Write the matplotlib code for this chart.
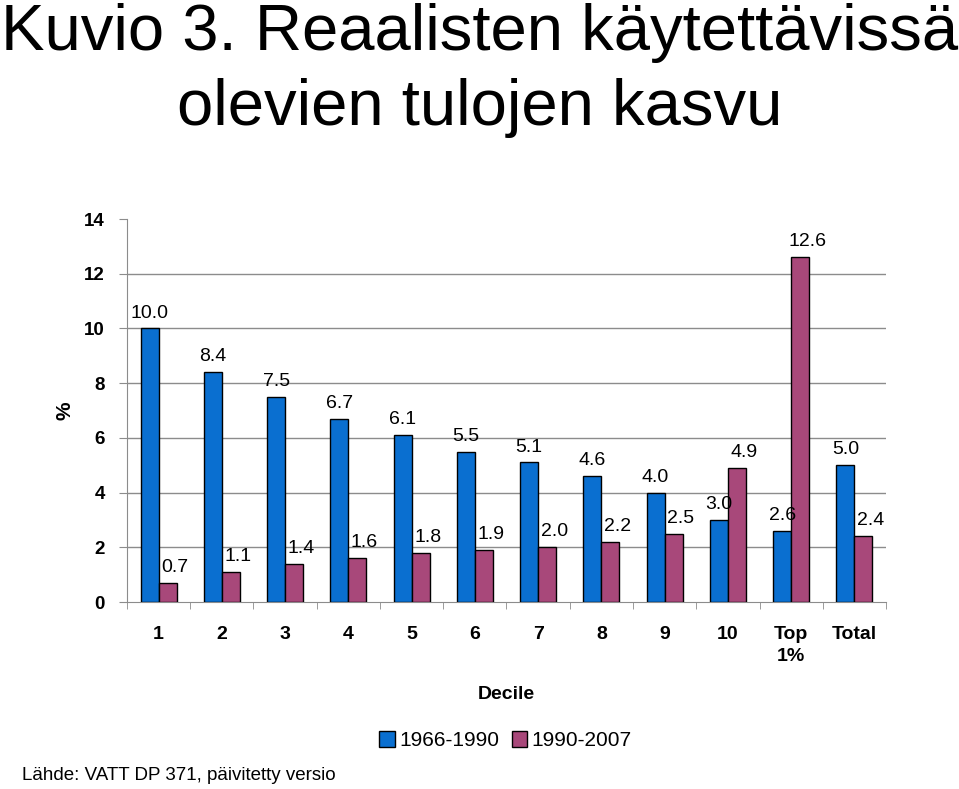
import numpy as np
import matplotlib.pyplot as plt
from matplotlib.patches import Patch
from matplotlib.ticker import FixedLocator

plt.rcParams['font.family'] = ['Liberation Sans', 'DejaVu Sans']

# data
categories = ['1', '2', '3', '4', '5', '6', '7', '8', '9', '10', 'Top\n1%', 'Total']
kasvu_1966_1990 = [10.0, 8.4, 7.5, 6.7, 6.1, 5.5, 5.1, 4.6, 4.0, 3.0, 2.6, 5.0]
kasvu_1990_2007 = [0.7, 1.1, 1.4, 1.6, 1.8, 1.9, 2.0, 2.2, 2.5, 4.9, 12.6, 2.4]
series_names = ['1966-1990', '1990-2007']
yticks = [0, 2, 4, 6, 8, 10, 12, 14]

blue = '#0A6FD0'
pink = '#A8487A'

fig = plt.figure(figsize=(9.59, 7.89), dpi=100)
ax = fig.add_axes([0.1324, 0.237, 0.7915, 0.4854])

x = np.arange(len(categories))
w = 0.285
b1 = ax.bar(x - w / 2, kasvu_1966_1990, w, color=blue, edgecolor='black', linewidth=1, zorder=3)
b2 = ax.bar(x + w / 2, kasvu_1990_2007, w, color=pink, edgecolor='black', linewidth=1, zorder=3)

# arvojen tekstit
for bars, dx in ((b1, 0), (b2, 5)):
    for r in bars:
        h = r.get_height()
        ax.annotate('{:.1f}'.format(h), (r.get_x() + r.get_width() / 2, h),
                    xytext=(dx, 5), textcoords='offset points',
                    ha='center', va='bottom', fontsize=14)

ax.set_xlim(-0.5, len(categories) - 0.5)
ax.set_ylim(0, 14)
ax.set_yticks(yticks)
ax.set_yticklabels([str(t) for t in yticks], fontsize=13.5, fontweight='bold')
for t in yticks[1:-1]:
    ax.axhline(t, color='#8c8c8c', linewidth=1, zorder=1)

ax.set_xticks(x)
ax.set_xticklabels(categories, fontsize=14, fontweight='bold', linespacing=1.4)
ax.xaxis.set_minor_locator(FixedLocator(np.arange(-0.5, len(categories), 1.0)))
ax.tick_params(axis='x', which='major', length=0, pad=17)
ax.tick_params(axis='x', which='minor', length=5, color='#8c8c8c')
ax.tick_params(axis='y', length=6, color='#8c8c8c', pad=10)

for s in ('top', 'right'):
    ax.spines[s].set_visible(False)
for s in ('left', 'bottom'):
    ax.spines[s].set_color('#8c8c8c')

ax.set_xlabel('Decile', fontsize=14, fontweight='bold', labelpad=15)
ax.set_ylabel('%', fontsize=15, fontweight='bold', labelpad=7)

fig.text(0.5, 0.936, 'Kuvio 3. Reaalisten käytettävissä', ha='center', va='baseline', fontsize=47)
fig.text(0.5, 0.841, 'olevien tulojen kasvu', ha='center', va='baseline', fontsize=47)

handles = [Patch(facecolor=blue, edgecolor='black'), Patch(facecolor=pink, edgecolor='black')]
fig.legend(handles, series_names, loc='center', bbox_to_anchor=(0.527, 0.061),
           ncol=2, frameon=False, fontsize=15, handlelength=0.75, handleheight=0.75,
           handletextpad=0.2, columnspacing=0.6)

fig.text(0.023, 0.012, 'Lähde: VATT DP 371, päivitetty versio', fontsize=13.5)

plt.savefig('out.png', dpi=100)
